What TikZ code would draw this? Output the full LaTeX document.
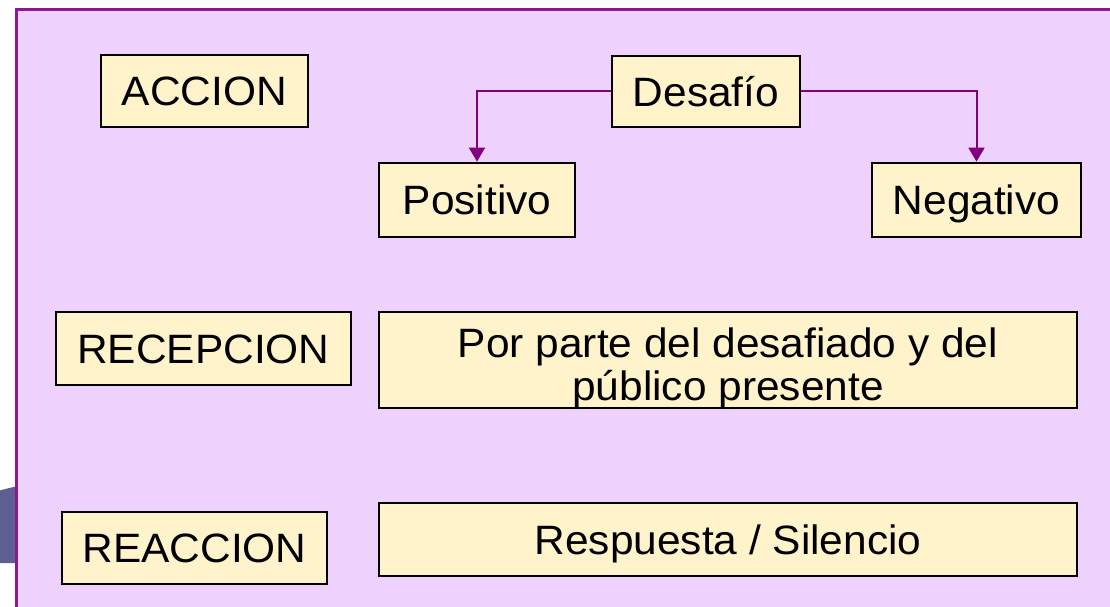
\documentclass[tikz,border=0pt]{standalone}
\usepackage{fontspec}
\setmainfont{Liberation Sans}[FakeStretch=1.035]
\usetikzlibrary{arrows.meta}
\definecolor{lav}{HTML}{EED2FD}
\definecolor{frame}{HTML}{8C1A8C}
\definecolor{boxfill}{HTML}{FFF3CC}
\definecolor{arr}{HTML}{800080}
\definecolor{slate}{HTML}{5E5E92}
\tikzset{
  boxshape/.style={draw=black, line width=2.8pt, fill=boxfill, inner sep=0pt},
  box/.style={boxshape, font=\fontsize{41}{44}\selectfont,
    text height=29.4pt, text depth=0pt},
  boxtext/.style={inner sep=0pt, font=\fontsize{41}{43}\selectfont, align=center},
  link/.style={draw=arr, line width=2pt, -{Triangle[width=16pt,length=14pt]}}
}
\begin{document}
\begin{tikzpicture}[x=1pt,y=1pt]
\useasboundingbox (0,0) rectangle (1110,-607);
\begin{scope}
\clip (0,0) rectangle (1110,-607);
\fill[white] (0,0) rectangle (1110,-607);
% partial shape on the left behind the frame
\fill[slate] (-5,-492) .. controls (5,-489) and (12,-487) .. (20,-486) -- (20,-563) -- (-5,-563) -- cycle;
\fill[lav, draw=frame, line width=3pt] (16,-10) rectangle (1125,-620);
\end{scope}
\node[box, minimum width=207pt, minimum height=72pt] (accion) at (204.5,-91) {ACCION};
\node[box, minimum width=188pt, minimum height=71pt] (desafio) at (706,-91.5) {Desafío};
\node[box, minimum width=196pt, minimum height=74pt] (positivo) at (477,-200) {Positivo};
\node[box, minimum width=209pt, minimum height=74pt] (negativo) at (976.5,-200) {Negativo};
\node[box, minimum width=295pt, minimum height=73pt] (recepcion) at (203.5,-348.5) {RECEPCION};
\node[boxshape, minimum width=698pt, minimum height=96pt] (porparte) at (728,-360) {};
\node[boxtext, anchor=north] (porpartetext) at (728,-328) {Por parte del desafiado y del\\público presente};
\node[box, minimum width=265pt, minimum height=72pt] (reaccion) at (194.5,-548) {REACCION};
\node[box, minimum width=698pt, minimum height=73pt] (respuesta) at (728,-539.5) {Respuesta / Silencio};
\draw[link] (desafio.west) -| (positivo.north);
\draw[link] (desafio.east) -| (negativo.north);
\end{tikzpicture}
\end{document}
